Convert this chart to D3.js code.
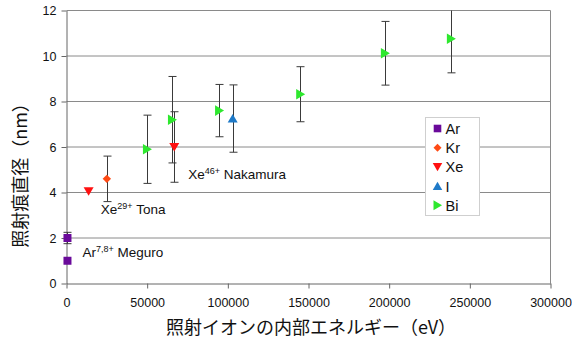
<!DOCTYPE html>
<html>
<head>
<meta charset="utf-8">
<script src="https://cdn.jsdelivr.net/npm/d3@7"></script>
<style>
  html, body { margin: 0; padding: 0; background: #fff; }
  svg { display: block; }
  text { font-family: "Liberation Sans", Arial, "Noto Sans CJK JP", sans-serif; }
  .jp { font-family: "Noto Sans CJK JP", "Liberation Sans", sans-serif; }
</style>
</head>
<body>
<svg id="chart" width="572" height="349"></svg>
<script>
// Irradiated ions: internal energy (eV) vs. track diameter (nm), with error half-widths
const arEnergy = [600, 600];
const arDiameter = [2.0, 1.0];
const arError = [0.25, 0];

const krEnergy = [25000];
const krDiameter = [4.6];
const krError = [1.0];

const xeEnergy = [13700, 66800];
const xeDiameter = [4.05, 6.0];
const xeError = [0, 1.55];

const iEnergy = [103000];
const iDiameter = [7.25];
const iError = [1.48];

const biEnergy = [50000, 65500, 94700, 145000, 197500, 238400];
const biDiameter = [5.9, 7.2, 7.6, 8.32, 10.12, 10.76];
const biError = [1.5, 1.9, 1.15, 1.21, 1.4, 1.5];

const xTicks = [0, 50000, 100000, 150000, 200000, 250000, 300000];
const yTicks = [0, 2, 4, 6, 8, 10, 12];

const seriesNames = ["Ar", "Kr", "Xe", "I", "Bi"];
const seriesColors = ["#6a0a9a", "#ff4a14", "#ff1010", "#1f7ac8", "#2ee82e"];
const seriesSymbols = ["square", "diamond", "down", "up", "right"];

const series = [
  { energy: arEnergy, diameter: arDiameter, error: arError },
  { energy: krEnergy, diameter: krDiameter, error: krError },
  { energy: xeEnergy, diameter: xeDiameter, error: xeError },
  { energy: iEnergy, diameter: iDiameter, error: iError },
  { energy: biEnergy, diameter: biDiameter, error: biError }
].map((s, k) => ({
  name: seriesNames[k], color: seriesColors[k], symbol: seriesSymbols[k],
  points: s.energy.map((e, j) => ({ x: e, y: s.diameter[j], err: s.error[j] }))
}));

const svg = d3.select("#chart");
const plotLeft = 66.5, plotRight = 550.5, plotTop = 10.5, plotBottom = 283.5;

const x = d3.scaleLinear().domain([0, 300000]).range([plotLeft, plotRight]);
const y = d3.scaleLinear().domain([0, 12]).range([plotBottom, plotTop]);

// Horizontal gridlines
svg.append("g").selectAll("line").data(yTicks.filter(t => t > 0)).join("line")
  .attr("x1", plotLeft).attr("x2", plotRight)
  .attr("y1", d => y(d)).attr("y2", d => y(d))
  .attr("stroke", "#8a8a8a").attr("stroke-width", 1);

// Right border of plot area
svg.append("line").attr("x1", plotRight).attr("x2", plotRight).attr("y1", plotTop).attr("y2", plotBottom)
  .attr("stroke", "#8a8a8a").attr("stroke-width", 1);

// Axes
const xAxis = svg.append("g").attr("transform", `translate(0,${plotBottom})`)
  .call(d3.axisBottom(x).tickValues(xTicks).tickFormat(d3.format("d")).tickSize(5).tickSizeOuter(0));
const yAxis = svg.append("g").attr("transform", `translate(${plotLeft},0)`)
  .call(d3.axisLeft(y).tickValues(yTicks).tickFormat(d3.format("d")).tickSize(5).tickSizeOuter(0));
[xAxis, yAxis].forEach(g => {
  g.select(".domain").attr("stroke", "#666");
  g.selectAll(".tick line").attr("stroke", "#666");
  g.selectAll(".tick text").attr("fill", "#111").attr("font-size", "12.5px")
    .attr("font-family", "'Liberation Sans', Arial, sans-serif");
});
xAxis.selectAll(".tick text").attr("dy", "1.2em");
yAxis.selectAll(".tick text").attr("dx", "-2px");

// Error bars (clipped to the plot area)
svg.append("clipPath").attr("id", "plotclip").append("rect")
  .attr("x", plotLeft - 10).attr("y", plotTop).attr("width", plotRight - plotLeft + 20).attr("height", plotBottom - plotTop);
const eb = svg.append("g").attr("clip-path", "url(#plotclip)")
  .attr("stroke", "#3a3a3a").attr("stroke-width", 1);
series.forEach(s => s.points.filter(p => p.err > 0).forEach(p => {
  const cx = Math.round(x(p.x)) + 0.5;
  const y1 = y(p.y + p.err), y2 = y(p.y - p.err);
  eb.append("line").attr("x1", cx).attr("x2", cx).attr("y1", y1).attr("y2", y2);
  [y1, y2].forEach(yy => eb.append("line")
    .attr("x1", cx - 4).attr("x2", cx + 4).attr("y1", yy).attr("y2", yy));
}));

// Marker shapes
function markerPath(sym, r) {
  switch (sym) {
    case "square": return `M${-r},${-r}H${r}V${r}H${-r}Z`;
    case "diamond": return `M0,${-r}L${r},0L0,${r}L${-r},0Z`;
    case "down": return `M${-r},${-r * 0.8}L${r},${-r * 0.8}L0,${r * 0.9}Z`;
    case "up": return `M${-r},${r * 0.8}L${r},${r * 0.8}L0,${-r * 0.9}Z`;
    case "right": return `M${-r * 0.8},${-r}L${r * 0.9},0L${-r * 0.8},${r}Z`;
  }
}
const markerSize = { square: 4, diamond: 4.2, down: 5, up: 5, right: 5.3 };

const marks = svg.append("g");
series.forEach(s => {
  marks.selectAll(null).data(s.points).join("path")
    .attr("transform", d => `translate(${x(d.x)},${y(d.y)})`)
    .attr("d", markerPath(s.symbol, markerSize[s.symbol]))
    .attr("fill", s.color);
});

// Annotations with superscript charge states
const notes = [
  { base: "Xe", sup: "46+", rest: " Nakamura", ex: 66800, ey: 6.0, dx: 14, dy: 32 },
  { base: "Xe", sup: "29+", rest: " Tona", ex: 25000, ey: 4.6, dx: -6, dy: 35 },
  { base: "Ar", sup: "7,8+", rest: " Meguro", ex: 600, ey: 1.0, dx: 15, dy: -4 }
];
notes.forEach(n => {
  const t = svg.append("text")
    .attr("x", x(n.ex) + n.dx).attr("y", y(n.ey) + n.dy)
    .attr("font-size", "13.5px").attr("fill", "#111");
  t.append("tspan").text(n.base);
  t.append("tspan").attr("font-size", "9px").attr("dy", "-5").text(n.sup);
  t.append("tspan").attr("dy", "5").text(n.rest);
});

// Legend
const lg = svg.append("g").attr("transform", "translate(425.5,117.5)");
lg.append("rect").attr("width", 54).attr("height", 98)
  .attr("fill", "#fff").attr("stroke", "#cfcfcf");
series.forEach((s, i) => {
  const row = lg.append("g").attr("transform", `translate(0,${11 + i * 19.2})`);
  row.append("path").attr("transform", "translate(12,0)")
    .attr("d", markerPath(s.symbol, markerSize[s.symbol] * 0.95)).attr("fill", s.color);
  row.append("text").attr("x", 20).attr("y", 5.5).attr("font-size", "14.5px")
    .attr("fill", "#111").text(s.name);
});

// Axis titles
svg.append("text").attr("class", "jp")
  .attr("x", 311).attr("y", 334).attr("text-anchor", "middle")
  .attr("font-size", "18px").attr("fill", "#111")
  .text("照射イオンの内部エネルギー（eV）");
svg.append("text").attr("class", "jp")
  .attr("transform", "translate(27,171) rotate(-90)").attr("text-anchor", "middle")
  .attr("font-size", "18px").attr("fill", "#111")
  .text("照射痕直径（nm）");
</script>
</body>
</html>
